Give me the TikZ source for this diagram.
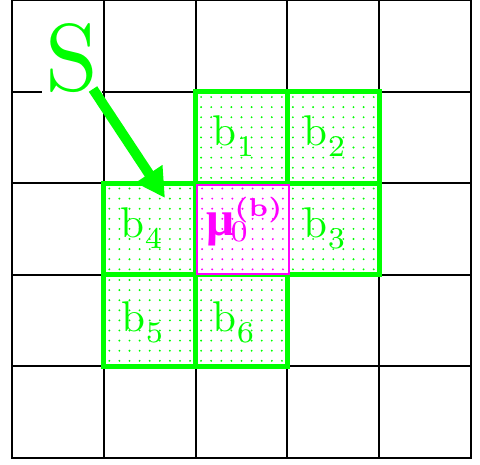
\documentclass[tikz,border=0pt]{standalone}
\usepackage{fix-cm}
\usepackage{fontspec}
\newfontfamily\libserif{Liberation Serif}
\usetikzlibrary{arrows.meta}
\definecolor{gr}{RGB}{0,255,0}
\definecolor{mg}{RGB}{255,0,255}
\newcommand\dotcell[3]{%
  \pgfmathsetmacro\cx{12+91.8*#1}\pgfmathsetmacro\cy{91.5*#2}%
  \fill[white] (\cx,\cy) rectangle ++(91.8,91.5);
  \foreach \i in {0,...,8}{\foreach \j in {0,...,8}{%
    \fill[#3] ({\cx+5.5+10.1*\i},{\cy+5.5+10.1*\j}) circle (1.05);}}
}
\newcommand\cellborder[2]{%
  \pgfmathsetmacro\cx{12+91.8*#1}\pgfmathsetmacro\cy{91.5*#2}%
  \draw[gborder] (\cx,\cy) rectangle ++(91.8,91.5);
}
\newcommand\bsub[1]{$\mathrm{b}_{\lower1.1pt\hbox{$\scriptstyle #1$}}$}
\tikzset{
  gridline/.style={line width=2pt, black},
  gborder/.style={line width=5pt, gr},
  lab/.style={text=gr, inner sep=0pt, anchor=base west, scale=4.3, font=\fontsize{10}{12}\selectfont},
  mlab/.style={text=mg, inner sep=0pt, anchor=base west, scale=4.3, font=\fontsize{10}{12}\selectfont},
  arrowstyle/.style={gr, line width=10pt, -{Triangle[length=29pt,width=30pt]}}
}
\begin{document}
\begin{tikzpicture}[x=1pt,y=-1pt]
\useasboundingbox (0,0) rectangle (480,464);
\fill[white] (0,0) rectangle (480,464);
% grid
\foreach \k in {0,...,5}{
  \draw[gridline] ({12+91.8*\k},0) -- ({12+91.8*\k},457.5);
  \draw[gridline] (11,{91.5*\k}) -- (472,{91.5*\k});
}
% green dotted cells
\dotcell{2}{1}{gr}
\dotcell{3}{1}{gr}
\dotcell{1}{2}{gr}
\dotcell{3}{2}{gr}
\dotcell{1}{3}{gr}
\dotcell{2}{3}{gr}
\cellborder{1}{2}
\cellborder{2}{1}
\cellborder{3}{1}
\cellborder{3}{2}
\cellborder{1}{3}
\cellborder{2}{3}
% magenta cell
\fill[white] (197,184.5) rectangle (288.5,274);
\foreach \i in {0,...,8}{\foreach \j in {0,...,8}{%
  \fill[mg] ({196.6+5.5+10.1*\i},{183+5.5+10.1*\j}) circle (1.05);}}
\draw[mg, line width=2pt] (197,184.5) rectangle (288.5,274);
% labels
\node[lab] (b1) at (212,145) {\bsub{1}};
\node[lab] (b2) at (303,145) {\bsub{2}};
\node[lab] (b3) at (303,237) {\bsub{3}};
\node[lab] (b4) at (120,237) {\bsub{4}};
\node[lab] (b5) at (121,331) {\bsub{5}};
\node[lab] (b6) at (212,331) {\bsub{6}};
\node[mlab] (mu) at (206,235) {{\libserif\bfseries\fontsize{11.5}{13}\selectfont μ}\kern-1.0pt$_0$\kern-3.6pt\raisebox{4.3pt}{\fontsize{6}{7}\selectfont\bfseries (b)}};
% S label and arrow
\node[text=gr, fill=white, inner sep=0.35pt, anchor=base, scale=9.5, font=\fontsize{10}{12}\selectfont] (S) at (72,90) {S};
\coordinate (arrstart) at (93,89);
\coordinate (arrend) at (165,198);
\draw[arrowstyle] (arrstart) -- (arrend);
\end{tikzpicture}
\end{document}
